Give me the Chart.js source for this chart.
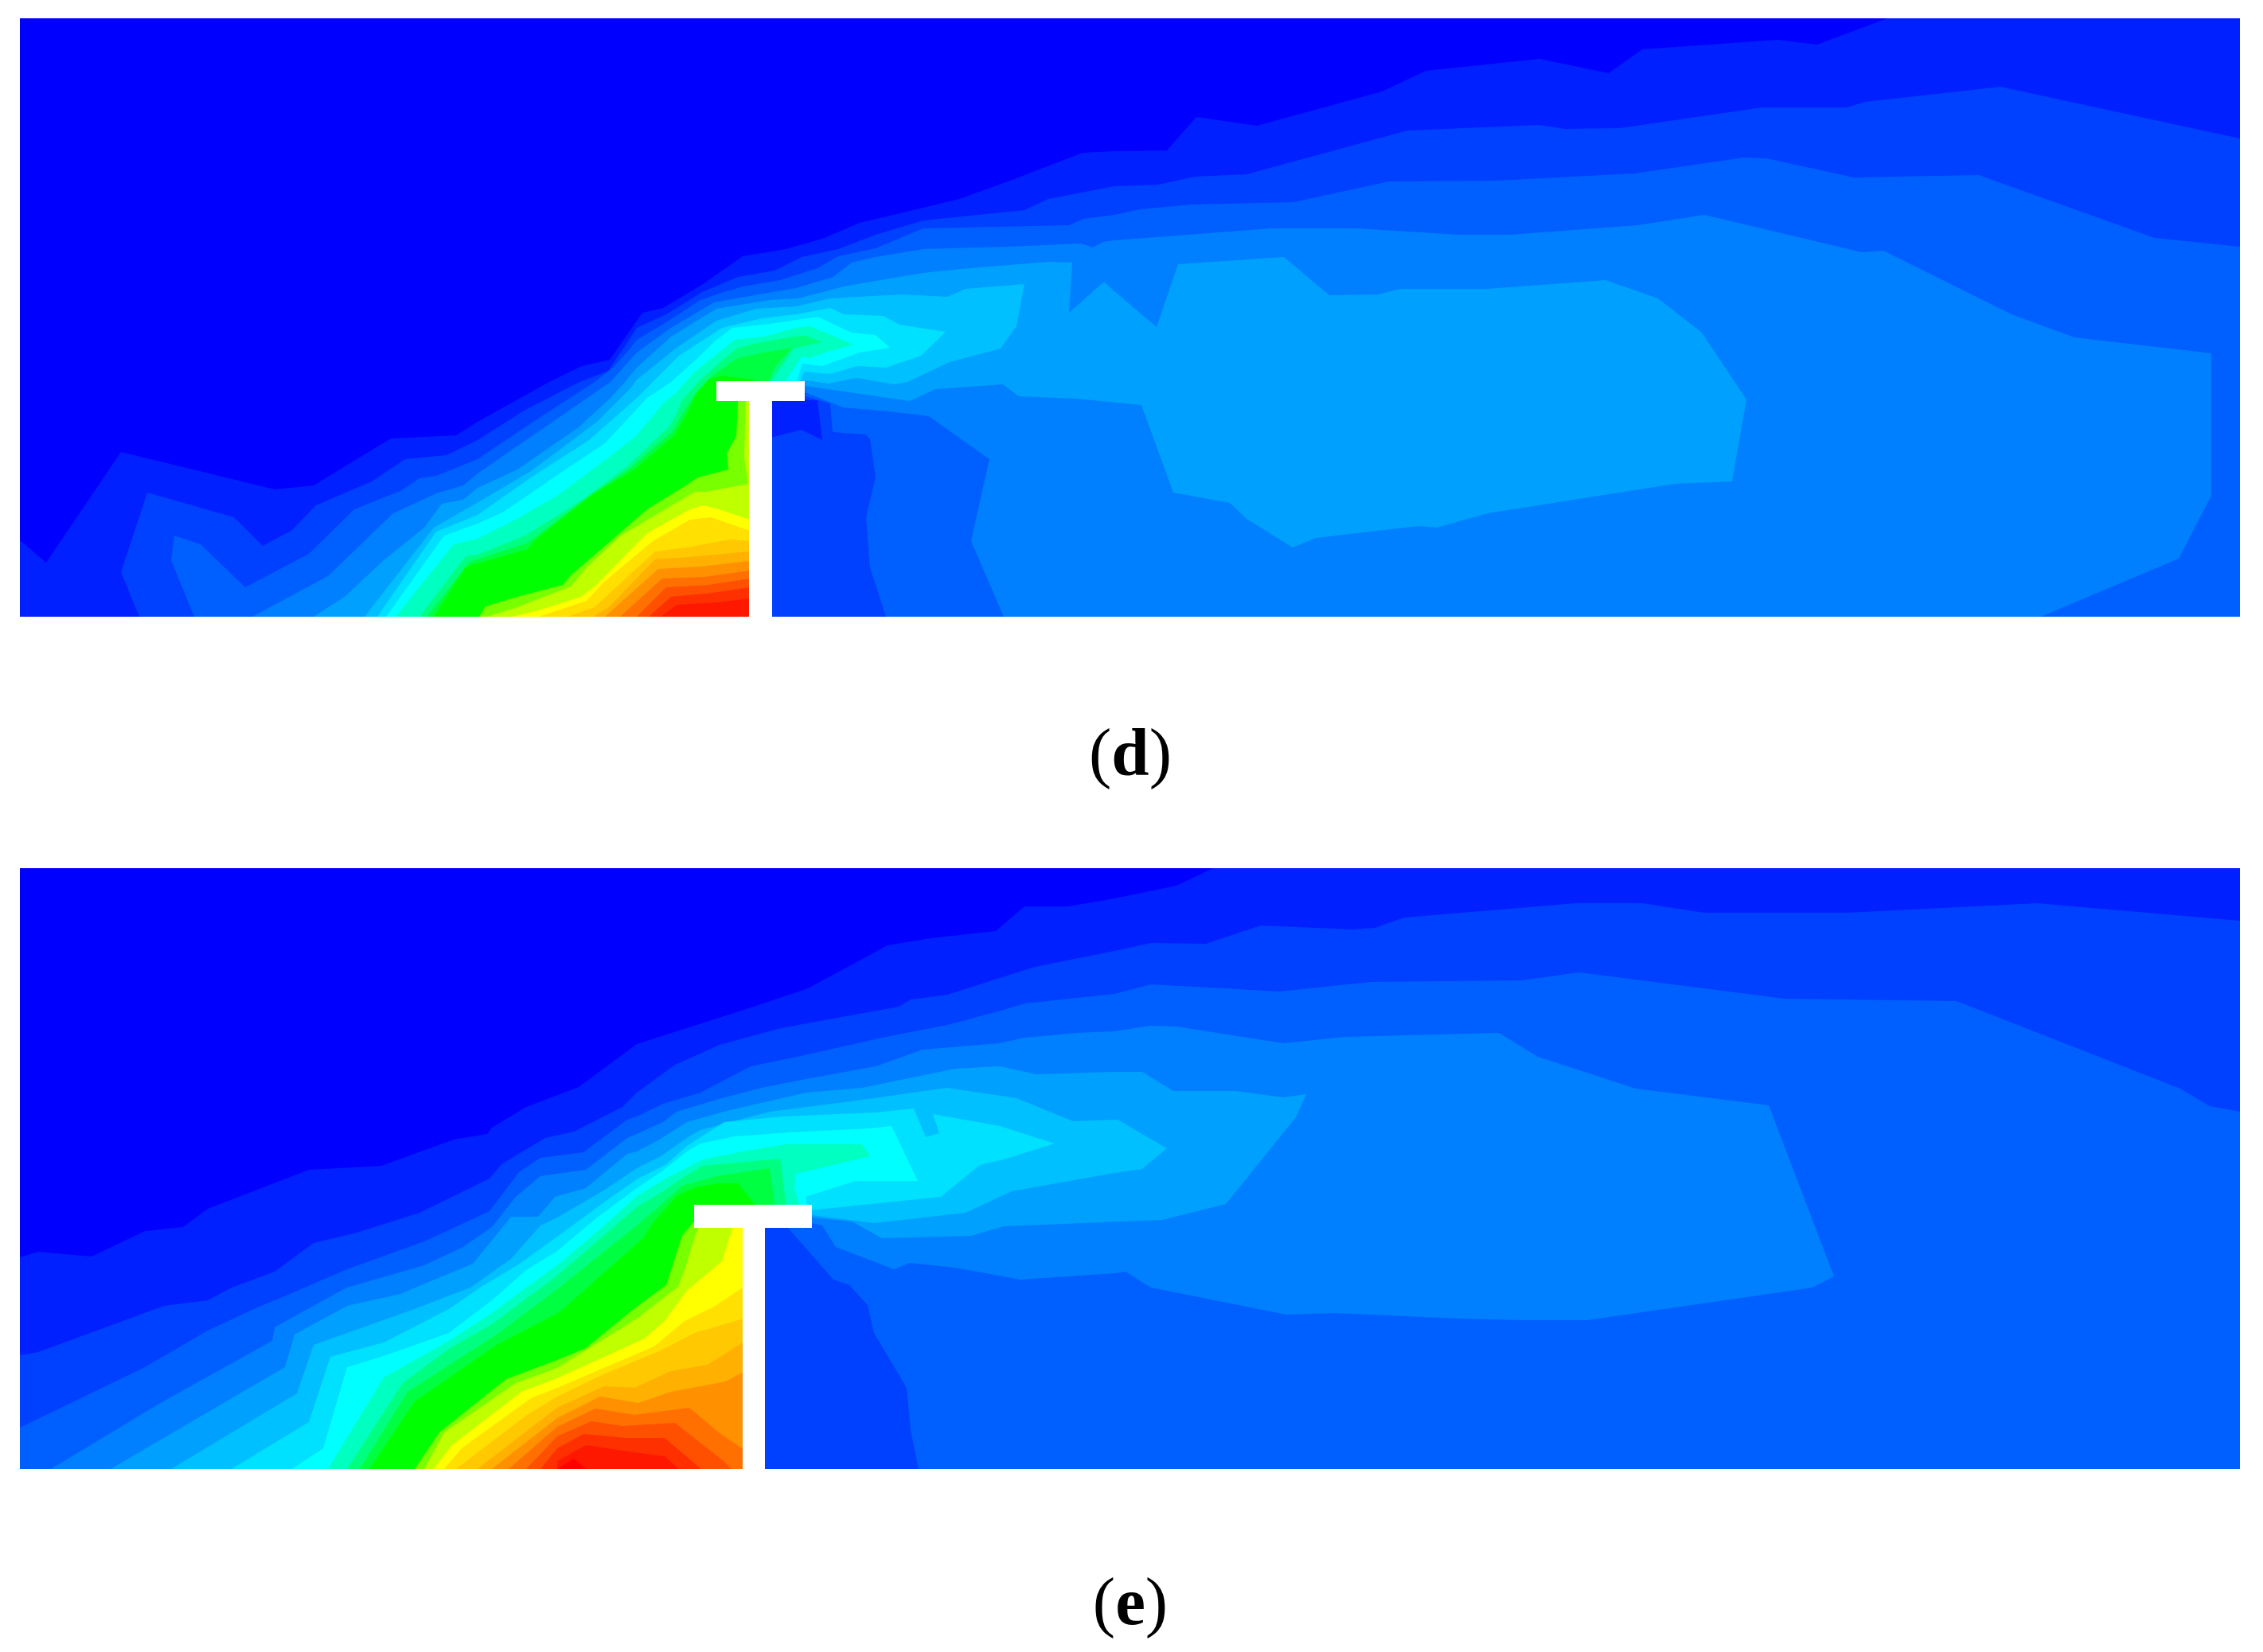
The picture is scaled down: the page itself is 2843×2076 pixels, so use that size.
<!DOCTYPE html>
<html>
<head>
<meta charset="utf-8">
<title>Contours (d) and (e)</title>
<script src="https://cdn.jsdelivr.net/npm/chart.js@4"></script>
<style>
  body { margin: 0; background: #fff; }
  canvas { position: absolute; left: 25px; }
  #chartD { top: 23px; }
  #chartE { top: 1091px; }
  .cap { position: absolute; left: 1320px; width: 200px; text-align: center; font: 85px "Liberation Serif", serif; line-height: 100px; color: #000; }
  .cap b { font-weight: bold; }
</style>
</head>
<body>
<canvas id="chartD" width="2789" height="752"></canvas>
<canvas id="chartE" width="2789" height="755"></canvas>
<div class="cap" style="top:895px">(<b>d</b>)</div>
<div class="cap" style="top:1962px">(<b>e</b>)</div>
<script>
// colour of each contour level, lowest first
const levelColors = ['#0000ff','#0020ff','#0040ff','#0060ff','#0080ff','#00a0ff','#00c0ff','#00e0ff','#00ffff','#00ffc0','#00ff60','#00ff00','#78ff00','#c0ff00','#ffff00','#ffe000','#ffc800','#ffb000','#ff9000','#ff7000','#ff5000','#ff3000','#ff1800','#ff0000'];
const extraGreens = ['#00ff80','#00ff40'];

// panel (d): contour outlines
const dExtent = [[25,23],[2814,23],[2814,775],[25,775]];
const d1 = [[25,775],[25,679],[58,707],[152,568],[345,615],[394,610],[491,551],[573,547],[600,530],[690,480],[731,460],[766,452],[807,393],[833,387],[883,357],[933,322],[987,313],[1033,300],[1080,280],[1139,266],[1205,250],[1269,227],[1360,192],[1400,190],[1466,189],[1503,147],[1579,158],[1736,115],[1791,89],[1934,74],[2021,92],[2063,62],[2233,50],[2283,56],[2371,23],[2814,23],[2814,775]];
const d2 = [[175,775],[152,719],[185,619],[294,650],[330,686],[367,666],[397,635],[467,605],[509,577],[561,572],[600,553],[660,515],[728,480],[764,466],[785,435],[800,412],[837,395],[882,367],[927,348],[973,340],[1007,323],[1053,313],[1100,295],[1160,277],[1287,264],[1317,250],[1400,234],[1455,232],[1501,222],[1566,219],[1768,164],[1934,157],[1966,162],[2035,161],[2214,135],[2320,135],[2343,128],[2513,109],[2541,115],[2814,174],[2814,775]];
const d3 = [[244,775],[215,704],[219,673],[252,684],[308,738],[388,696],[445,640],[503,617],[527,601],[548,598],[600,577],[670,530],[747,480],[770,462],[790,440],[800,427],[837,405],[880,377],[900,370],[933,360],[980,352],[1027,337],[1053,322],[1100,312],[1160,287],[1343,283],[1361,275],[1400,270],[1432,263],[1497,257],[1625,254],[1745,228],[1879,227],[2053,218],[2191,198],[2219,199],[2329,223],[2486,220],[2707,299],[2814,310],[2814,775],[1113,775],[1093,713],[1088,650],[1100,600],[1093,552],[1088,546],[1046,543],[1043,507],[1012,498],[1011,490],[941,490],[941,775]];
const d4 = [[317,775],[412,724],[494,645],[548,620],[582,610],[600,595],[680,540],[767,480],[800,443],[843,412],[897,380],[953,370],[1000,362],[1047,348],[1070,330],[1100,323],[1160,313],[1267,310],[1358,306],[1373,311],[1386,304],[1400,302],[1492,295],[1598,287],[1704,287],[1833,295],[1897,295],[2058,283],[2141,270],[2339,317],[2366,315],[2527,395],[2606,424],[2778,444],[2778,623],[2737,702],[2564,775],[1261,775],[1220,680],[1243,577],[1167,523],[1117,517],[1059,512],[1012,493],[1011,488],[941,488],[941,775]];
const d5 = [[394,775],[433,750],[482,704],[533,663],[555,633],[582,628],[600,613],[650,590],[727,537],[767,500],[785,480],[800,462],[843,423],[900,388],[967,377],[1003,375],[1060,360],[1100,353],[1160,343],[1207,338],[1317,329],[1347,330],[1343,393],[1387,354],[1400,366],[1453,411],[1480,332],[1613,323],[1670,371],[1731,370],[1759,363],[1869,363],[2017,352],[2083,375],[2138,418],[2194,502],[2176,605],[2104,608],[1869,645],[1805,663],[1782,661],[1653,676],[1624,688],[1566,652],[1545,632],[1474,619],[1434,509],[1353,501],[1280,498],[1260,483],[1175,489],[1143,504],[1012,485],[941,485],[941,775]];
const d6 = [[458,775],[545,663],[606,628],[667,592],[750,530],[793,487],[800,477],[850,437],[900,403],[950,388],[1000,385],[1043,375],[1133,370],[1190,373],[1213,363],[1287,357],[1277,410],[1257,438],[1193,455],[1140,480],[1123,483],[1077,475],[1040,482],[1013,478],[1008,483],[941,483],[941,775]];
const d7 = [[474,775],[548,668],[573,658],[600,647],[667,600],[740,553],[800,500],[807,493],[853,447],[907,412],[957,400],[1000,395],[1043,387],[1060,395],[1110,397],[1130,408],[1188,417],[1157,447],[1113,462],[1077,460],[1043,470],[1010,467],[1004,482],[941,482],[941,775]];
const d8 = [[485,775],[558,673],[600,658],[633,643],[700,597],[760,557],[813,500],[843,480],[873,453],[900,427],[920,412],[967,407],[1027,398],[1070,418],[1100,421],[1118,437],[1080,443],[1033,460],[1008,457],[1000,482],[941,482],[941,775]];
const d9 = [[497,775],[570,684],[600,677],[640,657],[700,623],[767,573],[800,547],[833,507],[850,493],[873,467],[903,443],[923,427],[960,423],[1000,412],[1018,410],[1072,433],[1037,443],[1017,450],[1007,448],[985,482],[941,482],[941,775]];
const d10 = [[527,775],[585,699],[600,697],[660,673],[733,627],[787,587],[840,537],[850,520],[857,503],[880,477],[907,453],[927,437],[957,430],[997,423],[1013,422],[1033,430],[997,438],[967,482],[941,482],[941,775]];
const d10b = [[536,775],[590,706],[663,682],[738,625],[792,588],[845,542],[857,520],[877,490],[897,470],[927,450],[960,443],[995,437],[973,462],[965,482],[941,482],[941,775]];
const d11 = [[545,775],[585,712],[600,708],[663,690],[673,678],[743,622],[797,590],[847,547],[863,520],[873,497],[890,477],[907,472],[947,477],[950,485],[941,485],[941,775]];
const d12 = [[602,775],[610,762],[650,750],[707,735],[717,723],[767,680],[813,640],[857,613],[877,600],[915,590],[913,570],[925,548],[927,505],[927,495],[941,495],[941,775]];
const d13 = [[612,775],[650,763],[717,737],[737,713],[780,673],[873,618],[887,618],[940,608],[935,575],[937,500],[941,500],[941,775]];
const d14 = [[643,775],[677,767],[730,750],[747,737],[813,670],[867,640],[883,635],[903,640],[942,653],[942,775]];
const d15 = [[677,775],[737,755],[757,733],[820,680],[867,653],[893,650],[942,667],[942,775]];
const d16 = [[713,775],[747,763],[823,693],[863,688],[917,678],[942,680],[942,775]];
const d17 = [[745,775],[765,763],[823,703],[867,700],[942,693],[942,775]];
const d18 = [[760,775],[827,715],[880,712],[942,705],[942,775]];
const d19 = [[779,775],[832,727],[885,725],[942,717],[942,775]];
const d20 = [[800,775],[837,738],[890,735],[942,727],[942,775]];
const d21 = [[815,775],[843,750],[895,745],[942,738],[942,775]];
const d22 = [[830,775],[850,760],[900,757],[942,752],[942,775]];
const dUnderFlange = [[968,500],[1027,503],[1033,553],[1007,540],[968,550]];
const dSection = [[900,479],[1011,479],[1011,504],[970,504],[970,775],[941,775],[941,504],[900,504]];

// panel (e)
const eExtent = [[25,1091],[2814,1091],[2814,1846],[25,1846]];
const e1 = [[25,1846],[25,1580],[48,1573],[115,1579],[182,1547],[230,1542],[261,1519],[388,1470],[479,1465],[570,1432],[612,1425],[618,1417],[661,1391],[727,1366],[800,1312],[950,1264],[1015,1242],[1115,1188],[1169,1179],[1251,1170],[1287,1139],[1342,1139],[1400,1129],[1478,1113],[1524,1091],[2814,1091],[2814,1846]];
const e2 = [[25,1846],[25,1703],[48,1699],[206,1641],[261,1634],[291,1618],[345,1598],[394,1562],[448,1549],[527,1524],[615,1481],[630,1463],[685,1430],[721,1422],[782,1391],[800,1373],[848,1338],[904,1313],[981,1292],[1129,1265],[1144,1256],[1190,1250],[1300,1215],[1400,1195],[1446,1185],[1515,1186],[1584,1163],[1699,1168],[1727,1166],[1764,1153],[1980,1135],[2063,1135],[2141,1147],[2320,1147],[2559,1135],[2814,1157],[2814,1846]];
const e3 = [[25,1846],[25,1794],[182,1718],[261,1672],[321,1644],[364,1626],[436,1595],[533,1560],[600,1529],[615,1522],[652,1473],[679,1455],[733,1448],[788,1407],[800,1403],[833,1387],[880,1373],[943,1340],[1006,1327],[1108,1304],[1190,1288],[1261,1269],[1287,1261],[1400,1249],[1446,1237],[1520,1241],[1607,1246],[1722,1234],[1911,1232],[1984,1222],[2242,1255],[2458,1258],[2739,1368],[2776,1390],[2814,1397],[2814,1846],[1154,1846],[1144,1797],[1139,1744],[1098,1675],[1090,1640],[1067,1615],[1047,1608],[990,1543],[941,1530],[941,1846]];
const e4 = [[64,1846],[200,1764],[342,1685],[345,1668],[379,1649],[436,1618],[533,1590],[582,1567],[618,1542],[648,1504],[679,1478],[736,1470],[788,1430],[800,1425],[833,1410],[850,1397],[907,1380],[957,1367],[1007,1357],[1100,1340],[1159,1319],[1256,1311],[1287,1304],[1353,1298],[1400,1296],[1446,1289],[1478,1290],[1612,1311],[1690,1303],[1883,1298],[1932,1328],[2055,1368],[2222,1389],[2304,1604],[2277,1618],[1994,1659],[1915,1659],[1833,1657],[1676,1650],[1616,1652],[1446,1618],[1414,1598],[1400,1600],[1282,1608],[1200,1593],[1143,1587],[1123,1595],[1050,1567],[1033,1540],[1020,1537],[941,1530],[941,1846]];
const e5 = [[139,1846],[358,1718],[370,1677],[436,1641],[503,1626],[594,1588],[642,1529],[676,1529],[697,1504],[736,1493],[788,1450],[800,1447],[827,1433],[863,1410],[917,1395],[1013,1373],[1083,1367],[1200,1343],[1256,1340],[1302,1350],[1400,1347],[1435,1347],[1474,1371],[1552,1371],[1612,1379],[1641,1375],[1628,1404],[1540,1513],[1460,1533],[1261,1541],[1220,1553],[1108,1556],[1070,1535],[1020,1530],[941,1530],[941,1846]];
const e6 = [[215,1846],[373,1751],[394,1690],[515,1647],[591,1618],[642,1582],[679,1540],[700,1530],[760,1495],[800,1468],[830,1453],[863,1430],[880,1420],[967,1397],[1077,1383],[1147,1373],[1190,1367],[1277,1380],[1348,1409],[1404,1407],[1466,1443],[1435,1469],[1400,1474],[1271,1497],[1213,1524],[1098,1537],[1020,1527],[941,1530],[941,1846]];
const e7 = [[291,1846],[388,1787],[415,1705],[482,1687],[564,1645],[606,1616],[650,1590],[700,1554],[760,1510],[800,1482],[837,1463],[863,1440],[910,1410],[983,1403],[1100,1398],[1148,1393],[1163,1429],[1180,1424],[1172,1400],[1256,1415],[1325,1437],[1261,1457],[1231,1464],[1182,1504],[1027,1520],[941,1530],[941,1846]];
const e8 = [[367,1846],[406,1820],[436,1718],[479,1705],[564,1675],[618,1634],[661,1596],[700,1572],[750,1530],[800,1493],[830,1473],[863,1447],[880,1437],[923,1428],[993,1423],[1093,1418],[1120,1415],[1153,1484],[1075,1484],[1012,1504],[1015,1520],[941,1530],[941,1846]];
const e9 = [[412,1846],[482,1731],[564,1685],[618,1650],[661,1618],[700,1590],[750,1548],[800,1503],[833,1483],[883,1457],[933,1447],[987,1438],[1083,1438],[1093,1453],[1000,1475],[998,1493],[1006,1520],[941,1530],[941,1846]];
const e10 = [[436,1846],[506,1738],[564,1695],[618,1664],[700,1603],[750,1560],[800,1517],[833,1497],[853,1483],[883,1465],[980,1456],[982,1468],[988,1520],[941,1530],[941,1846]];
const e10b = [[452,1846],[512,1749],[624,1677],[700,1620],[800,1540],[827,1517],[857,1490],[900,1478],[967,1468],[970,1487],[974,1520],[941,1530],[941,1846]];
const e11 = [[464,1846],[521,1761],[624,1690],[703,1649],[809,1555],[820,1537],[850,1503],[873,1492],[903,1487],[927,1487],[948,1513],[950,1530],[941,1530],[941,1846]];
const e12 = [[521,1846],[552,1800],[636,1733],[700,1709],[736,1694],[779,1659],[800,1642],[837,1615],[857,1553],[872,1535],[941,1530],[941,1846]];
const e13 = [[533,1846],[558,1800],[648,1738],[700,1719],[800,1657],[852,1617],[862,1590],[872,1557],[880,1535],[941,1530],[941,1846]];
const e14 = [[545,1846],[567,1817],[655,1749],[700,1732],[810,1682],[835,1660],[863,1622],[907,1585],[923,1535],[941,1530],[941,1846]];
const e15 = [[558,1846],[580,1820],[667,1757],[700,1744],[822,1692],[860,1660],[897,1642],[933,1618],[941,1612],[941,1846]];
const e16 = [[573,1846],[661,1779],[700,1755],[756,1728],[828,1698],[873,1675],[941,1655],[941,1846]];
const e17 = [[600,1846],[700,1769],[759,1742],[797,1744],[843,1723],[889,1715],[941,1682],[941,1846]];
const e18 = [[618,1846],[700,1782],[754,1755],[802,1763],[843,1749],[912,1736],[941,1720],[941,1846]];
const e19 = [[639,1846],[700,1793],[748,1770],[797,1778],[866,1769],[904,1801],[941,1826],[941,1846]];
const e20 = [[661,1846],[700,1805],[743,1786],[782,1792],[848,1788],[909,1836],[919,1846]];
const e21 = [[679,1846],[700,1820],[733,1802],[787,1807],[835,1807],[881,1846]];
const e22 = [[700,1846],[700,1836],[736,1816],[789,1824],[835,1830],[853,1846]];
const e23 = [[700,1846],[721,1833],[736,1846]];
const eSection = [[872,1514],[1020,1514],[1020,1543],[961,1543],[961,1846],[933,1846],[933,1543],[872,1543]];

const c = levelColors;
const panelD = [
  [dExtent,c[0]],[d1,c[1]],[d2,c[2]],[d3,c[3]],[d4,c[4]],[d5,c[5]],[d6,c[6]],[d7,c[7]],[d8,c[8]],
  [d9,c[9]],[d10,extraGreens[0]],[d10b,extraGreens[1]],[d11,c[11]],[d12,c[12]],[d13,c[13]],[d14,c[14]],[d15,c[15]],[d16,c[16]],
  [d17,c[17]],[d18,c[18]],[d19,c[19]],[d20,c[20]],[d21,c[21]],[d22,c[22]],[dUnderFlange,c[1]],[dSection,'#ffffff']
];
const panelE = [
  [eExtent,c[0]],[e1,c[1]],[e2,c[2]],[e3,c[3]],[e4,c[4]],[e5,c[5]],[e6,c[6]],[e7,c[7]],[e8,c[8]],
  [e9,c[9]],[e10,extraGreens[0]],[e10b,extraGreens[1]],[e11,c[11]],[e12,c[12]],[e13,c[13]],[e14,c[14]],
  [e15,c[15]],[e16,c[16]],[e17,c[17]],[e18,c[18]],[e19,c[19]],[e20,c[20]],[e21,c[21]],[e22,c[22]],[e23,c[23]],[eSection,'#ffffff']
];

function drawPanel(id, layers, extent) {
  const n = layers.length;
  new Chart(document.getElementById(id), {
    type: 'scatter',
    data: {
      datasets: layers.map(([outline, color], i) => ({
        data: outline.map(([x, y]) => ({ x, y })),
        showLine: true,
        fill: 'shape',
        backgroundColor: color,
        borderWidth: 0,
        pointRadius: 0,
        tension: 0,
        order: n - i   // chart.js paints the lowest order last
      }))
    },
    options: {
      responsive: false,
      animation: false,
      devicePixelRatio: 1,
      layout: { padding: 0 },
      plugins: { legend: { display: false }, tooltip: { enabled: false } },
      scales: {
        x: { type: 'linear', display: false, min: extent[0][0], max: extent[1][0] },
        y: { type: 'linear', display: false, reverse: true, min: extent[0][1], max: extent[2][1] }
      }
    }
  });
}

drawPanel('chartD', panelD, dExtent);
drawPanel('chartE', panelE, eExtent);
</script>
</body>
</html>
